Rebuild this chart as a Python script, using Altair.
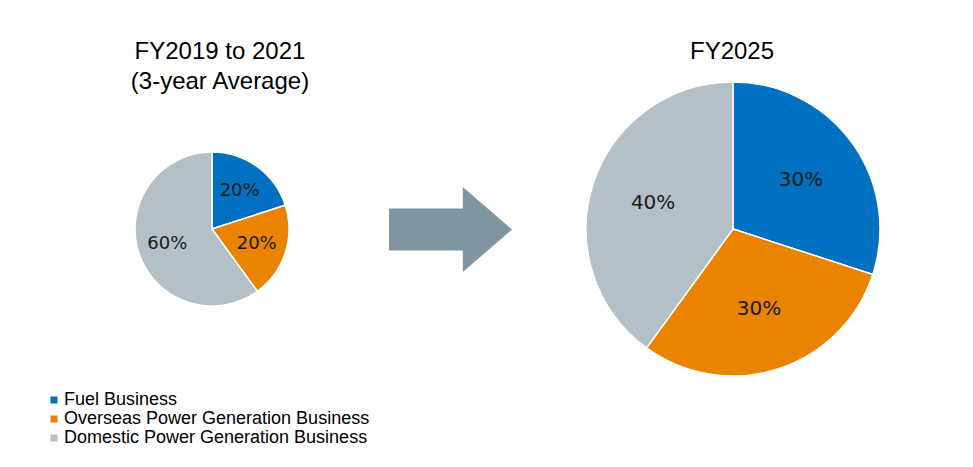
import altair as alt
import pandas as pd

categories = ["Fuel Business", "Overseas Power Generation Business", "Domestic Power Generation Business"]
colors = ["#0070C0", "#E98300", "#B4C0C8"]
share_2019_2021 = [20, 20, 60]
share_2025 = [30, 30, 40]
panel_titles = ["FY2019 to 2021\n(3-year Average)", "FY2025"]

rows = []
for panel, vals in [("past", share_2019_2021), ("future", share_2025)]:
    for i, (c, v) in enumerate(zip(categories, vals)):
        rows.append({"panel": panel, "category": c, "value": v, "order": i, "label": f"{v}%"})
df = pd.DataFrame(rows)

color_enc = alt.Color(
    "category:N",
    scale=alt.Scale(domain=categories, range=colors),
    legend=alt.Legend(
        title=None, orient="none", legendX=37, legendY=383,
        symbolType="square", symbolSize=49, symbolStrokeWidth=0,
        labelFontSize=18, labelFont="Liberation Sans", labelColor="black",
        rowPadding=1, labelLimit=0, labelOffset=1,
    ),
)

def pie(panel, cx, cy, r, label_r, fs):
    base = alt.Chart(df).transform_filter(alt.datum.panel == panel)
    arc = base.mark_arc(radius=r, stroke="white", strokeWidth=1.5).encode(
        theta=alt.Theta("value:Q", stack=True),
        color=color_enc,
        order=alt.Order("order:Q"),
        x=alt.value(cx), y=alt.value(cy),
    )
    txt = base.mark_text(radius=label_r, font="DejaVu Sans", fontSize=fs, color="#1a1a1a").encode(
        theta=alt.Theta("value:Q", stack=True),
        order=alt.Order("order:Q"),
        text="label:N",
        x=alt.value(cx), y=alt.value(cy),
    )
    return arc, txt

a1, t1 = pie("past", 204, 221, 77, 47, 18)
a2, t2 = pie("future", 725, 221, 147, 84, 20)

title1 = alt.Chart(pd.DataFrame({"t": [panel_titles[0].split("\n")]})).mark_text(
    font="Liberation Sans", fontSize=24, color="black", baseline="middle", lineHeight=30
).encode(text="t", x=alt.value(212), y=alt.value(44))
title2 = alt.Chart(pd.DataFrame({"t": [panel_titles[1]]})).mark_text(
    font="Liberation Sans", fontSize=24, color="black", baseline="middle"
).encode(text="t:N", x=alt.value(724), y=alt.value(44))

arrow_path = "M-1,-0.34L0.2,-0.34L0.2,-0.69L1,0L0.2,0.69L0.2,0.34L-1,0.34Z"
arrow = alt.Chart(pd.DataFrame({"a": [0]})).mark_point(
    shape=arrow_path, filled=True, color="#7F96A0", opacity=1, size=15129, strokeWidth=0
).encode(x=alt.value(442.5), y=alt.value(221.5))

chart = alt.layer(a1, t1, a2, t2, title1, title2, arrow).properties(
    width=957, height=451, autosize="none", padding=0
).configure_view(stroke=None)

chart.save("out.html", embed_options={"renderer": "svg", "actions": False})
